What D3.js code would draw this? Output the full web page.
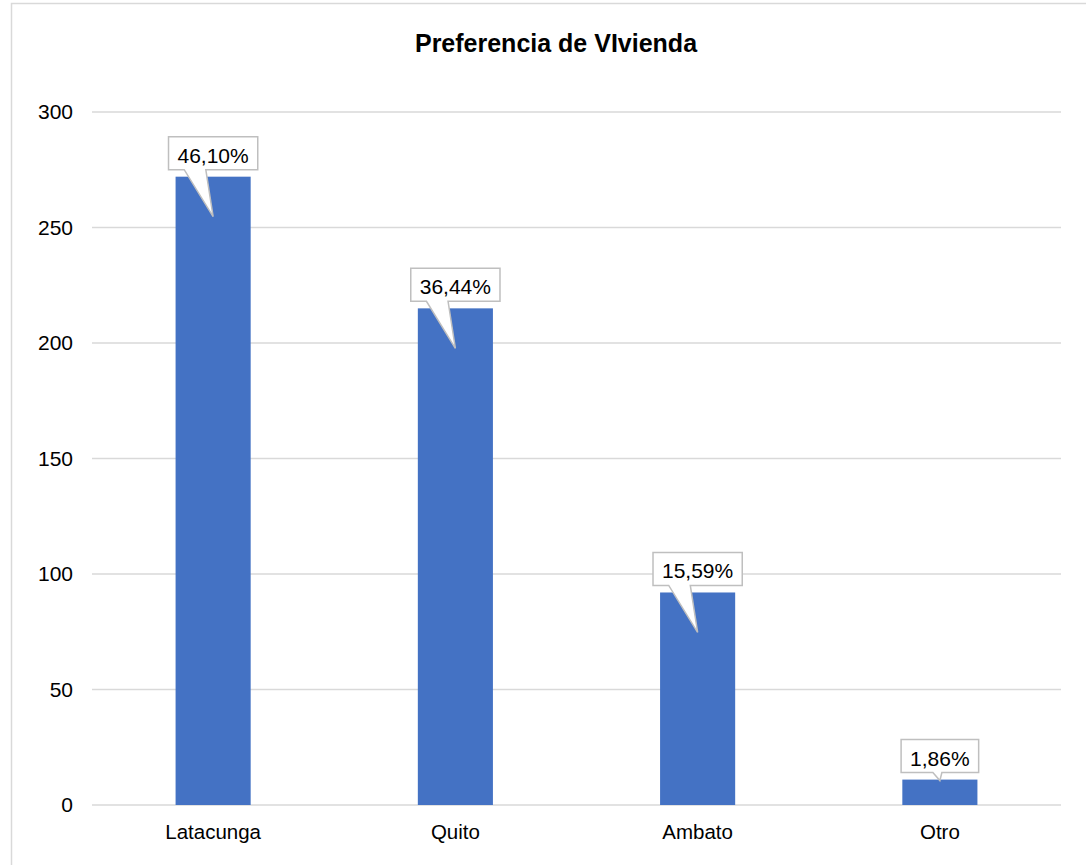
<!DOCTYPE html>
<html>
<head>
<meta charset="utf-8">
<script src="https://cdn.jsdelivr.net/npm/d3@7"></script>
<style>
  body { margin: 0; background: #fff; }
  text { font-family: "Liberation Sans", Arial, sans-serif; fill: #000; }
</style>
</head>
<body>
<div id="chart"></div>
<script>
(function () {
  // data
  const categories = ['Latacunga', 'Quito', 'Ambato', 'Otro'];
  const counts = [272, 215, 92, 11];
  const percentLabels = ['46,10%', '36,44%', '15,59%', '1,86%'];
  const yTicks = [0, 50, 100, 150, 200, 250, 300];
  const title = 'Preferencia de VIvienda';

  const W = 1086, H = 865;
  const margin = { top: 112, right: 25, bottom: 60, left: 92 };
  const width = W - margin.left - margin.right;
  const height = H - margin.top - margin.bottom;

  const svg = d3.select('#chart').append('svg')
    .attr('width', W)
    .attr('height', H);

  // chart area border
  svg.append('rect')
    .attr('x', 11.5).attr('y', 3.5)
    .attr('width', 1090).attr('height', 870)
    .attr('fill', '#fff')
    .attr('stroke', '#d9d9d9')
    .attr('stroke-width', 1.5);

  svg.append('text')
    .attr('x', 556)
    .attr('y', 52)
    .attr('text-anchor', 'middle')
    .style('font-size', '25px')
    .style('font-weight', 'bold')
    .text(title);

  const g = svg.append('g')
    .attr('transform', `translate(${margin.left},${margin.top})`);

  const yScale = d3.scaleLinear().domain([0, 300]).range([height, 0]);
  const xScale = d3.scaleBand().domain(categories).range([0, width]).paddingInner(0.69).paddingOuter(0.345);
  const band = d3.scaleBand().domain(categories).range([0, width]);

  // gridlines
  g.append('g').selectAll('line')
    .data(yTicks)
    .enter().append('line')
    .attr('x1', 0).attr('x2', width)
    .attr('y1', d => yScale(d)).attr('y2', d => yScale(d))
    .attr('stroke', '#d9d9d9')
    .attr('stroke-width', 1.5);

  // y axis labels
  const yAxis = d3.axisLeft(yScale).tickValues(yTicks).tickSize(0).tickPadding(19);
  g.append('g').call(yAxis)
    .call(s => s.select('.domain').remove())
    .selectAll('text')
    .style('font-size', '21px')
    .attr('font-family', null);

  // x axis labels
  const xAxis = d3.axisBottom(band).tickSize(0).tickPadding(19);
  g.append('g')
    .attr('transform', `translate(0,${height})`)
    .call(xAxis)
    .call(s => s.select('.domain').remove())
    .selectAll('text')
    .style('font-size', '20.5px')
    .attr('font-family', null);

  // bars
  g.selectAll('rect.bar')
    .data(counts)
    .enter().append('rect')
    .attr('class', 'bar')
    .attr('x', (d, i) => xScale(categories[i]))
    .attr('y', d => yScale(d))
    .attr('width', xScale.bandwidth())
    .attr('height', d => height - yScale(d))
    .attr('fill', '#4472c4');

  // callout labels
  const callouts = g.selectAll('g.callout')
    .data(counts)
    .enter().append('g')
    .attr('class', 'callout');

  callouts.each(function (d, i) {
    const c = d3.select(this);
    const cx = band(categories[i]) + band.bandwidth() / 2;
    const top = yScale(d);
    const boxBottom = top - 7;
    const boxTop = boxBottom - 33;
    const path = c.append('path');
    const label = c.append('text')
      .attr('x', cx)
      .attr('y', boxBottom - 7)
      .attr('text-anchor', 'middle')
      .style('font-size', '21px')
      .text(percentLabels[i]);
    const tw = label.node().getComputedTextLength();
    const w = tw + 18;
    const l = cx - w / 2, r = cx + w / 2;
    const barH = height - top;
    const tipY = barH > 100 ? top + 40 : top + 1;
    const b1 = barH > 100 ? l + w * 0.176 : cx - 7;
    const b2 = barH > 100 ? l + w * 0.418 : cx + 2;
    path.attr('d', `M${l},${boxTop} L${r},${boxTop} L${r},${boxBottom} L${b2},${boxBottom} L${cx},${tipY} L${b1},${boxBottom} L${l},${boxBottom} Z`)
      .attr('fill', '#fff')
      .attr('stroke', '#bfbfbf')
      .attr('stroke-width', 1.5)
      .attr('stroke-linejoin', 'miter');
  });
})();
</script>
</body>
</html>
